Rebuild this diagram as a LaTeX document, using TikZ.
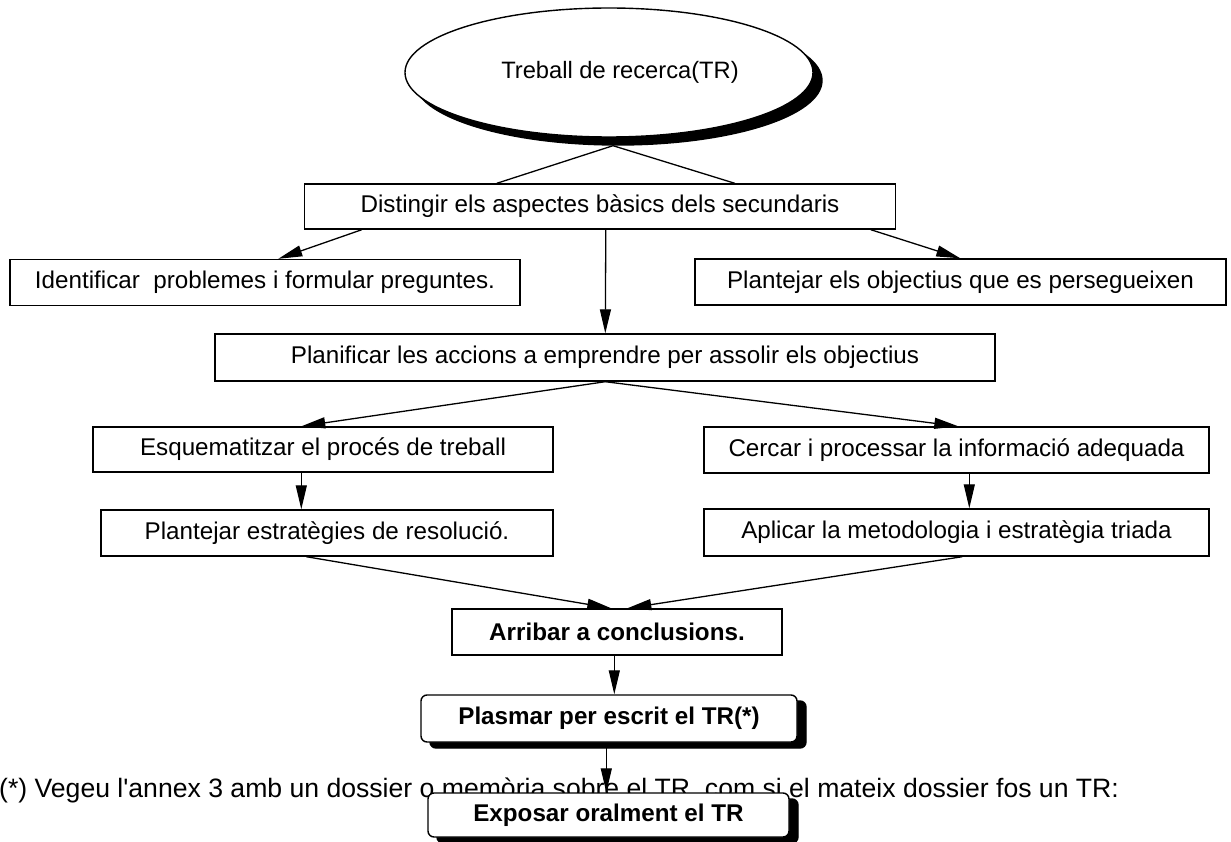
\documentclass[tikz,border=0pt]{standalone}
\usepackage{fontspec}
\setmainfont{Liberation Sans}
\usetikzlibrary{shapes.geometric,arrows.meta,shadows,calc}
\begin{document}
\begin{tikzpicture}[x=1pt,y=-1pt,
  box/.style={draw,line width=1.4pt,fill=white,inner sep=0pt,font=\fontsize{24.2}{29}\selectfont},
  boldbox/.style={box,font=\fontsize{24.2}{29}\bfseries\selectfont},
  rbox/.style={boldbox,rounded corners=6pt,copy shadow={shadow xshift=9pt,shadow yshift=-6pt,fill=black,draw=black}},
  conn/.style={line width=1.3pt},
  arr/.style={conn,-{Triangle[length=24pt,width=11pt]}},
]
\useasboundingbox (0,0) rectangle (1231,842);
% footnote (behind the last box)
\node[anchor=base west,inner sep=0pt,font=\fontsize{26.6}{32}\selectfont] (note) at (-1,797)
  {(*) Vegeu l\textquotesingle annex 3 amb un dossier o memòria sobre el TR, com si el mateix dossier fos un TR:};

\node[ellipse,draw,line width=1.4pt,fill=white,inner sep=0pt,minimum width=408pt,minimum height=129pt,
  font=\fontsize{23.7}{28}\selectfont,
  copy shadow={shadow xshift=9pt,shadow yshift=-8pt,fill=black,draw=black}] (tr) at (609,72.5) {\hspace*{22pt}Treball de recerca(TR)};

\node[box,minimum width=591pt,minimum height=45pt] (dist) at (600,206.5) {Distingir els aspectes bàsics dels secundaris};
\node[box,minimum width=510pt,minimum height=46pt] (ident) at (265,282.5) {Identificar\ \ problemes i formular preguntes.};
\node[box,minimum width=531pt,minimum height=46pt] (objec) at (960.5,282) {Plantejar els objectius que es persegueixen};
\node[box,minimum width=780pt,minimum height=47pt] (plan) at (605,357.5) {Planificar les accions a emprendre per assolir els objectius};
\node[box,minimum width=460pt,minimum height=45pt] (esq) at (323,449.5) {Esquematitzar el procés de treball};
\node[box,minimum width=452pt,minimum height=46pt] (estr) at (327,533) {Plantejar estratègies de resolució.};
\node[box,minimum width=505pt,minimum height=46pt] (cerc) at (956.5,450) {Cercar i processar la informació adequada};
\node[box,minimum width=505pt,minimum height=47pt] (aplic) at (956.5,532.5) {Aplicar la metodologia i estratègia triada};
\node[boldbox,minimum width=330pt,minimum height=46pt] (arrib) at (617,632) {Arribar a conclusions.};
\node[rbox,minimum width=376pt,minimum height=47pt] (plasm) at (609,718.5) {Plasmar per escrit el TR(*)};

\draw[conn] ($(tr.south)+(4,8)$) -- ($(dist.north west)+(193,0)$);
\draw[conn] ($(tr.south)+(4,8)$) -- ($(dist.north west)+(431,0)$);
\draw[arr] ($(dist.south west)+(58,0)$) -- ($(ident.north west)+(269,0)$);
\draw[arr] ($(dist.south west)+(567,0)$) -- ($(objec.north west)+(266,0)$);
\draw[arr] ($(dist.south west)+(302,0)$) -- ($(plan.north west)+(391,0)$);
\draw[arr] ($(plan.south west)+(391,0)$) -- ($(esq.north west)+(209,0)$);
\draw[arr] ($(plan.south west)+(391,0)$) -- ($(cerc.north west)+(255,0)$);
\draw[arr] ($(esq.south west)+(209,0)$) -- ($(estr.north west)+(201,0)$);
\draw[arr] ($(cerc.south west)+(266,0)$) -- ($(aplic.north west)+(266,0)$);
\draw[arr] ($(estr.south west)+(206,0)$) -- ($(arrib.north west)+(160,0)$);
\draw[arr] ($(aplic.south west)+(259,0)$) -- ($(arrib.north west)+(176,0)$);
\draw[arr] ($(arrib.south west)+(163,0)$) -- ($(plasm.north west)+(194,0)$);

\node[rbox,minimum width=361pt,minimum height=44pt] (expos) at (608.5,815) {Exposar oralment el TR};
\draw[arr] ($(plasm.south west)+(186,5)$) -- ($(expos.north west)+(179,0)$);
\end{tikzpicture}
\end{document}
